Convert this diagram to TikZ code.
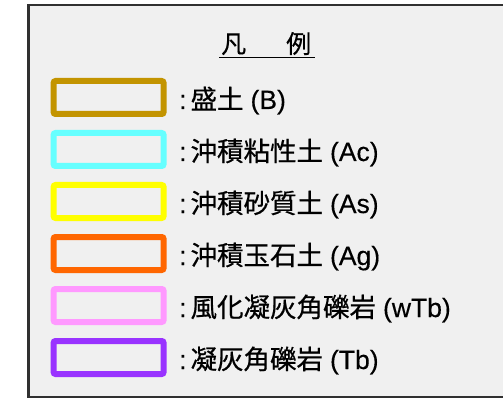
\documentclass[tikz,border=0pt]{standalone}
\usepackage{fontspec}
\setmainfont{Noto Sans CJK JP}
\newfontfamily\jp[FakeBold=0.6]{Noto Sans CJK JP}
\newfontfamily\lat[FakeBold=0.3]{Liberation Sans}
\definecolor{bgc}{HTML}{F0F0F0}
\definecolor{framec}{HTML}{303030}
\definecolor{cB}{HTML}{C39400}
\definecolor{cAc}{HTML}{66FFFF}
\definecolor{cAs}{HTML}{FFFF00}
\definecolor{cAg}{HTML}{FF6600}
\definecolor{cwTb}{HTML}{FF99FF}
\definecolor{cTb}{HTML}{9933FF}
\newcommand{\entry}[2]{{\lat:}\hspace{4pt}#1\hspace{7pt}{\lat(#2)}}
\tikzset{
  legbox/.style={draw, line width=6pt, rounded corners=2pt, minimum width=110pt, minimum height=33pt, inner sep=0pt},
  lab/.style={anchor=base west, inner sep=0pt, font=\jp\fontsize{26.5}{30}\selectfont},
  ttl/.style={anchor=base west, inner sep=0pt, font=\jp\fontsize{25}{28}\selectfont}
}
\begin{document}
\begin{tikzpicture}[x=1pt,y=-1pt]
\useasboundingbox (0,0) rectangle (503,398);
\clip (0,0) rectangle (503,398);
\fill[white] (0,0) rectangle (503,398);
\draw[fill=bgc, draw=framec, line width=2.5pt] (28.5,5) rectangle (540,397.5);
\node[ttl] (h1) at (221,53) {凡};
\node[ttl] (h2) at (286,53) {例};
\draw[line width=1.5pt] (219,57.5) coordinate (u1) -- (315,57.5) coordinate (u2);
\foreach \i/\c/\j/\r in {0/cB/盛土/B,1/cAc/沖積粘性土/Ac,2/cAs/沖積砂質土/As,3/cAg/沖積玉石土/Ag,4/cwTb/風化凝灰角礫岩/wTb,5/cTb/凝灰角礫岩/Tb}{
  \node[legbox, draw=\c] (b\i) at (108.6,97.5+52*\i) {};
  \node[lab] (t\i) at (179,109+52*\i) {\entry{\j}{\r}};
}
\end{tikzpicture}
\end{document}
